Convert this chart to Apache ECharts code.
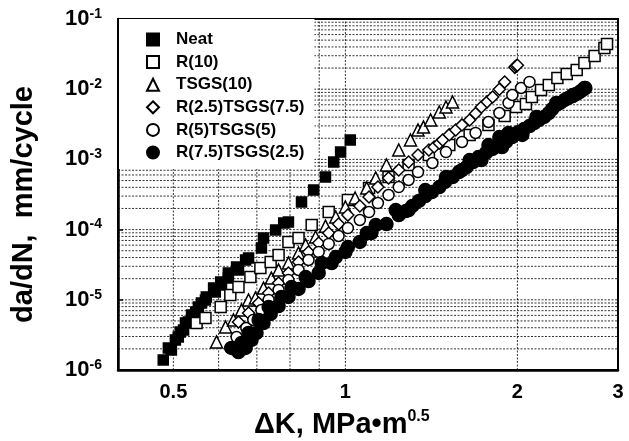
<!DOCTYPE html>
<html>
<head>
<meta charset="utf-8">
<script src="https://cdn.jsdelivr.net/npm/echarts@6/dist/echarts.min.js"></script>
<style>html,body{margin:0;padding:0;background:#fff}#c{width:629px;height:441px}</style>
</head>
<body>
<div id="c"></div>
<script>
// ---- data (ΔK in MPa·m^0.5, da/dN in mm/cycle) ----
const seriesNames = ['Neat', 'R(10)', 'TSGS(10)', 'R(2.5)TSGS(7.5)', 'R(5)TSGS(5)', 'R(7.5)TSGS(2.5)'];

const neatK = [0.480,0.490,0.496,0.504,0.510,0.514,0.521,0.525,0.531,0.538,0.547,0.553,0.560,0.569,0.571,0.588,0.592,0.605,0.607,0.624,0.624,0.645,0.650,0.669,0.677,0.713,0.719,0.755,0.780,0.795,0.838,0.880,0.923,0.954,0.981,1.02];
const neatR = [1.39e-6,2.06e-6,1.93e-6,2.68e-6,2.95e-6,3.48e-6,3.71e-6,4.67e-6,4.83e-6,6.07e-6,6.70e-6,7.90e-6,9.00e-6,9.94e-6,1.10e-5,1.47e-5,1.29e-5,1.79e-5,1.63e-5,2.41e-5,2.04e-5,2.93e-5,2.66e-5,3.69e-5,3.94e-5,5.47e-5,7.59e-5,9.87e-5,1.24e-4,1.28e-4,2.47e-4,3.66e-4,5.61e-4,9.18e-4,1.27e-3,1.89e-3];

const r10K = [0.549,0.569,0.605,0.629,0.650,0.682,0.710,0.740,0.764,0.795,0.828,0.873,0.935,1.01,1.10,1.19,1.29,1.40,1.52,1.65,1.78,1.90,1.99,2.07,2.12,2.20,2.27,2.35,2.44,2.54,2.62,2.73,2.84,2.87];
const r10R = [4.67e-6,5.50e-6,7.90e-6,1.17e-5,1.52e-5,2.11e-5,2.84e-5,3.46e-5,4.35e-5,6.66e-5,7.59e-5,1.16e-4,1.78e-4,2.64e-4,3.91e-4,5.61e-4,8.32e-4,1.155e-3,1.60e-3,2.23e-3,3.09e-3,4.15e-3,5.58e-3,6.15e-3,7.74e-3,9.74e-3,1.148e-2,1.444e-2,1.646e-2,1.877e-2,2.36e-2,2.97e-2,3.86e-2,4.40e-2];

const tsgsK = [0.595,0.617,0.637,0.658,0.677,0.696,0.719,0.742,0.764,0.795,0.828,0.852,0.887,0.923,0.962,1.00,1.04,1.09,1.13,1.18,1.24,1.30,1.34,1.37,1.41,1.46,1.50,1.54];
const tsgsR = [2.51e-6,4.10e-6,5.16e-6,7.16e-6,9.94e-6,1.06e-5,1.47e-5,2.04e-5,2.66e-5,3.34e-5,4.64e-5,6.03e-5,7.85e-5,1.12e-4,1.51e-4,2.10e-4,2.82e-4,3.91e-4,5.43e-4,8.32e-4,1.36e-3,1.89e-3,2.62e-3,2.89e-3,3.64e-3,4.73e-3,5.58e-3,6.57e-3];

const r25K = [0.650,0.677,0.705,0.734,0.764,0.795,0.828,0.862,0.898,0.935,0.973,1.01,1.06,1.10,1.14,1.19,1.24,1.29,1.34,1.40,1.43,1.46,1.48,1.52,1.56,1.60,1.65,1.69,1.73,1.77,1.81,1.86,1.90,1.98,1.99,2.00];
const r25R = [4.83e-6,6.49e-6,9.00e-6,1.25e-5,1.73e-5,2.41e-5,3.46e-5,4.80e-5,6.44e-5,8.94e-5,1.20e-4,1.61e-4,2.17e-4,2.91e-4,4.04e-4,5.43e-4,7.06e-4,9.18e-4,1.155e-3,1.36e-3,1.50e-3,1.70e-3,1.89e-3,2.25e-3,2.62e-3,3.10e-3,3.64e-3,4.50e-3,5.58e-3,6.60e-3,7.74e-3,1.00e-2,1.266e-2,2.05e-2,2.14e-2,2.20e-2];

const r5K = [0.629,0.645,0.671,0.690,0.713,0.734,0.764,0.795,0.828,0.862,0.898,0.935,0.973,1.01,1.06,1.10,1.14,1.19,1.24,1.29,1.34,1.42,1.50,1.60,1.69,1.78,1.86,1.93,1.96,2.03,2.10];
const r5R = [2.06e-6,2.95e-6,3.97e-6,5.16e-6,7.16e-6,9.94e-6,1.38e-5,1.91e-5,2.66e-5,3.69e-5,4.80e-5,6.24e-5,8.11e-5,1.05e-4,1.37e-4,1.78e-4,2.39e-4,3.11e-4,4.04e-4,5.09e-4,6.61e-4,8.89e-4,1.27e-3,1.77e-3,2.38e-3,3.41e-3,4.58e-3,6.36e-3,8.27e-3,1.04e-2,1.27e-2];

const r75K = [0.632,0.650,0.658,0.669,0.677,0.685,0.699,0.705,0.719,0.734,0.740,0.764,0.773,0.795,0.805,0.828,0.852,0.862,0.898,0.909,0.946,0.962,1.00,1.01,1.06,1.09,1.11,1.13,1.18,1.225,1.24,1.276,1.29,1.31,1.345,1.38,1.38,1.417,1.46,1.494,1.50,1.54,1.58,1.60,1.63,1.65,1.673,1.71,1.73,1.762,1.78,1.81,1.858,1.86,1.88,1.91,1.93,1.958,2.01,2.04,2.055,2.10,2.14,2.16,2.18,2.228,2.27,2.301,2.34,2.34,2.377,2.42,2.455,2.50,2.50,2.535,2.57,2.598,2.62,2.63];
const r75R = [2.06e-6,1.80e-6,2.43e-6,2.06e-6,3.37e-6,2.68e-6,3.37e-6,5.16e-6,4.67e-6,7.90e-6,6.28e-6,8.16e-6,1.10e-5,1.10e-5,1.52e-5,1.43e-5,2.11e-5,1.85e-5,2.41e-5,3.34e-5,3.34e-5,4.07e-5,4.80e-5,5.65e-5,6.66e-5,8.94e-5,8.94e-5,1.16e-4,1.20e-4,1.90e-4,1.61e-4,1.84e-4,1.90e-4,2.17e-4,2.56e-4,3.01e-4,3.66e-4,3.43e-4,4.04e-4,4.77e-4,5.61e-4,5.61e-4,6.61e-4,7.06e-4,7.79e-4,9.80e-4,9.18e-4,1.08e-3,9.80e-4,1.234e-3,1.60e-3,1.41e-3,1.552e-3,2.08e-3,1.50e-3,1.77e-3,2.38e-3,2.08e-3,2.46e-3,2.23e-3,2.71e-3,2.99e-3,3.30e-3,4.02e-3,3.64e-3,4.02e-3,4.58e-3,5.22e-3,5.96e-3,6.36e-3,6.36e-3,7.02e-3,7.49e-3,8.00e-3,8.27e-3,8.54e-3,9.12e-3,9.74e-3,1.04e-2,1.04e-2];

// tick / grid values
const xTickLabels = [0.5, 1, 2, 3];
const xGridValues = [0.5, 0.6, 0.7, 0.8, 0.9, 1, 2];
const yDecades = [1e-6, 1e-5, 1e-4, 1e-3, 1e-2];
const xRange = [0.4, 3];
const yRange = [1e-6, 0.1];

const FONT = '"Liberation Sans", Arial, sans-serif';
const pair = (a, b) => a.map((v, i) => [v, b[i]]);

const yGridValues = [];
yDecades.forEach(d => { for (let m = 1; m <= 9; m++) yGridValues.push(d * m); });

const gridStyle = { color: '#000', width: 1, type: [2, 1.5], opacity: 0.8 };

const gridSeries = yGridValues.map(v => [[xRange[0], v], [xRange[1], v]])
  .concat(xGridValues.map(v => [[v, yRange[0]], [v, yRange[1]]]))
  .map((d, i) => ({
    name: 'grid' + i, type: 'line', data: d, silent: true, symbol: 'none',
    lineStyle: gridStyle, z: 1, animation: false, clip: true
  }));

const specs = [
  { name: seriesNames[0], d: pair(neatK, neatR), symbol: 'rect', size: 10, fill: '#000' },
  { name: seriesNames[1], d: pair(r10K, r10R), symbol: 'rect', size: 11, fill: '#fff' },
  { name: seriesNames[2], d: pair(tsgsK, tsgsR), symbol: 'triangle', size: 12, fill: '#fff' },
  { name: seriesNames[3], d: pair(r25K, r25R), symbol: 'diamond', size: 12, fill: '#fff' },
  { name: seriesNames[4], d: pair(r5K, r5R), symbol: 'circle', size: 11, fill: '#fff' },
  { name: seriesNames[5], d: pair(r75K, r75R), symbol: 'circle', size: 13, fill: '#000' }
];

const series = gridSeries.concat(specs.map(s => ({
  name: s.name, type: 'scatter', data: s.d, symbol: s.symbol, symbolSize: s.size,
  itemStyle: { color: s.fill, borderColor: '#000', borderWidth: 1.5, opacity: 1 },
  z: 3
})));

const chart = echarts.init(document.getElementById('c'), null, { renderer: 'canvas' });
chart.setOption({
  animation: false,
  backgroundColor: '#fff',
  grid: { left: 118, right: 11, top: 19, bottom: 71, show: true, borderColor: '#000', borderWidth: 2, backgroundColor: 'transparent' },
  title: {
    text: '{a|ΔK, MPa•m}{s|0.5}',
    left: 249, top: 404,
    textStyle: { rich: {
      a: { fontFamily: FONT, fontWeight: 'bold', fontSize: 29, color: '#000', lineHeight: 32 },
      s: { fontFamily: FONT, fontWeight: 'bold', fontSize: 16, color: '#000', verticalAlign: 'top', lineHeight: 16 }
    } }
  },
  legend: {
    data: seriesNames, orient: 'vertical', left: 119, top: 19,
    backgroundColor: '#fff', padding: [12, 10, 8, 27],
    itemWidth: 12, itemHeight: 12, itemGap: 5.6,
    textStyle: { fontFamily: FONT, fontWeight: 'bold', fontSize: 17, color: '#000', padding: [0, 0, 0, 12] }
  },
  xAxis: {
    type: 'log', logBase: 2, min: xRange[0], max: xRange[1],
    axisLine: { show: true, lineStyle: { color: '#000', width: 2.5 } },
    axisTick: { show: false },
    splitLine: { show: false },
    axisLabel: {
      margin: 12, color: '#000', fontFamily: FONT, fontWeight: 'bold', fontSize: 20,
      showMinLabel: true, showMaxLabel: true,
      formatter: v => {
        const hit = xTickLabels.find(t => Math.abs(t - v) < 0.01);
        return hit === undefined ? '' : String(hit);
      }
    }
  },
  yAxis: {
    type: 'log', logBase: 10, min: yRange[0], max: yRange[1],
    name: 'da/dN,  mm/cycle', nameLocation: 'middle', nameGap: 80, nameRotate: 90,
    nameTextStyle: { fontFamily: FONT, fontWeight: 'bold', fontSize: 29, color: '#000', padding: [0, 20, 0, 0] },
    axisLine: { show: true, lineStyle: { color: '#000', width: 2.5 } },
    axisTick: { show: true, inside: true, length: 5, lineStyle: { color: '#000', width: 1.5 } },
    splitLine: { show: false },
    axisLabel: {
      margin: 16, color: '#000',
      formatter: v => '{b|10}{s|' + Math.round(Math.log10(v)) + '}',
      rich: {
        b: { fontFamily: FONT, fontWeight: 'bold', fontSize: 22, color: '#000', lineHeight: 24 },
        s: { fontFamily: FONT, fontWeight: 'bold', fontSize: 14, color: '#000', verticalAlign: 'top', lineHeight: 14 }
      }
    }
  },
  series: series
});
</script>
</body>
</html>
